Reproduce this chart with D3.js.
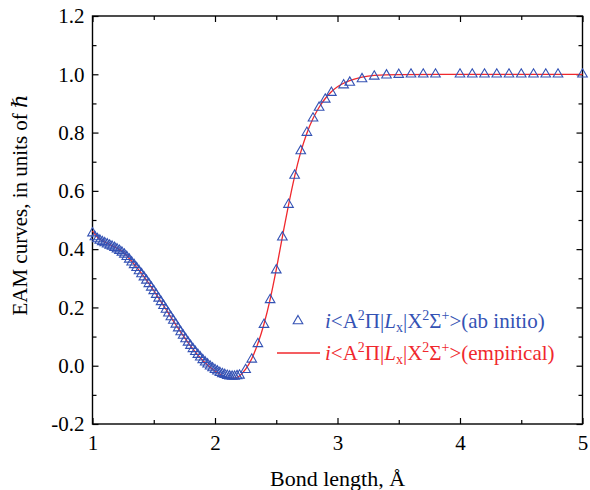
<html>
  <head>
    <meta charset="UTF-8">
    <script src="https://cdn.jsdelivr.net/npm/d3@7"></script>
    <style>
      body { margin: 0; background: #fff; }
      text { font-family: "Liberation Serif", "DejaVu Serif", serif; }
    </style>
  </head>
  <body>
  <script type="text/javascript">

    // ab initio points (triangles)
    var abX = [1.00, 1.02, 1.04, 1.06, 1.08, 1.10, 1.12, 1.14, 1.16, 1.18,
               1.20, 1.22, 1.24, 1.26, 1.28, 1.30, 1.32, 1.34, 1.36, 1.38,
               1.40, 1.42, 1.44, 1.46, 1.48, 1.50, 1.52, 1.54, 1.56, 1.58,
               1.60, 1.62, 1.64, 1.66, 1.68, 1.70, 1.72, 1.74, 1.76, 1.78,
               1.80, 1.82, 1.84, 1.86, 1.88, 1.90, 1.92, 1.94, 1.96, 1.98,
               2.00, 2.02, 2.04, 2.06, 2.08, 2.10, 2.12, 2.14, 2.16, 2.18, 2.20,
               2.25, 2.30, 2.35, 2.40, 2.45, 2.50, 2.55, 2.60, 2.65, 2.70, 2.75,
               2.80, 2.85, 2.90, 2.95, 3.05, 3.10, 3.20, 3.30, 3.40, 3.50, 3.60,
               3.70, 3.80, 4.00, 4.10, 4.20, 4.30, 4.40, 4.50, 4.60, 4.70, 4.80, 5.00];
    var abY = [0.455, 0.442, 0.435, 0.430, 0.425, 0.421, 0.417, 0.413, 0.409, 0.405,
               0.400, 0.395, 0.389, 0.382, 0.374, 0.365, 0.355, 0.346, 0.336, 0.325,
               0.315, 0.304, 0.293, 0.281, 0.269, 0.257, 0.244, 0.231, 0.219, 0.206,
               0.193, 0.180, 0.167, 0.155, 0.142, 0.129, 0.116, 0.104, 0.092, 0.080,
               0.069, 0.058, 0.048, 0.038, 0.029, 0.020, 0.012, 0.005, -0.002, -0.008,
               -0.014, -0.019, -0.024, -0.028, -0.031, -0.034, -0.036, -0.037, -0.037, -0.035, -0.033,
               -0.014, 0.022, 0.075, 0.141, 0.226, 0.328, 0.441, 0.553, 0.653, 0.737, 0.800,
               0.849, 0.886, 0.914, 0.937, 0.963, 0.972, 0.984, 0.993, 0.997, 0.999, 1.000,
               1.000, 1.000, 1.000, 1.000, 1.000, 1.000, 1.000, 1.000, 1.000, 1.000, 1.000, 1.000];

    // empirical curve (red line)
    var empX = [1.00, 1.05, 1.10, 1.15, 1.20, 1.25, 1.30, 1.35, 1.40, 1.50, 1.60, 1.70,
                1.80, 1.90, 2.00, 2.05, 2.10, 2.15, 2.20, 2.25, 2.30, 2.35, 2.40, 2.45,
                2.50, 2.55, 2.60, 2.65, 2.70, 2.75, 2.80, 2.85, 2.90, 2.95, 3.00, 3.10,
                3.20, 3.30, 3.50, 4.00, 5.00];
    var empY = [0.462, 0.437, 0.424, 0.414, 0.403, 0.390, 0.368, 0.343, 0.317, 0.258, 0.193, 0.128,
                0.068, 0.018, -0.018, -0.031, -0.040, -0.043, -0.035, -0.012, 0.024, 0.076, 0.143, 0.228,
                0.330, 0.442, 0.551, 0.650, 0.733, 0.798, 0.848, 0.887, 0.917, 0.940, 0.957, 0.978,
                0.990, 0.996, 0.999, 1.000, 1.000];

    var xTicks = [1, 2, 3, 4, 5];
    var xMinor = [1.5, 2.5, 3.5, 4.5];
    var yTicks = [-0.2, 0.0, 0.2, 0.4, 0.6, 0.8, 1.0, 1.2];
    var yMinor = [-0.1, 0.1, 0.3, 0.5, 0.7, 0.9, 1.1];

    var width = 590, height = 490;
    var pLeft = 92.5, pRight = 582.5, pTop = 16, pBottom = 424;
    var blue = "#3452b4", red = "#f0282d";

    var svg = d3.select("body").append("svg")
                .attr("width", width)
                .attr("height", height);

    var x = d3.scaleLinear().domain([1, 5]).range([pLeft, pRight]);
    var y = d3.scaleLinear().domain([-0.2, 1.2]).range([pBottom, pTop]);

    // axes, ticks pointing inward
    function styleAxis(g) {
      g.select(".domain").remove();
      g.selectAll("line").attr("stroke", "#000").attr("stroke-width", 1.2);
      g.selectAll("text").attr("font-size", "21px").attr("fill", "#000")
        .style("font-family", "Liberation Serif");
    }

    svg.append("g").attr("transform", "translate(0," + pBottom + ")")
      .call(d3.axisBottom(x).tickValues(xTicks).tickSize(-6).tickPadding(11).tickFormat(d3.format("d")))
      .call(styleAxis);
    svg.append("g").attr("transform", "translate(0," + pBottom + ")")
      .call(d3.axisBottom(x).tickValues(xMinor).tickSize(-4).tickFormat(""))
      .call(styleAxis);
    svg.append("g").attr("transform", "translate(0," + pTop + ")")
      .call(d3.axisTop(x).tickValues(xTicks).tickSize(-6).tickFormat(""))
      .call(styleAxis);
    svg.append("g").attr("transform", "translate(0," + pTop + ")")
      .call(d3.axisTop(x).tickValues(xMinor).tickSize(-4).tickFormat(""))
      .call(styleAxis);

    svg.append("g").attr("transform", "translate(" + pLeft + ",0)")
      .call(d3.axisLeft(y).tickValues(yTicks).tickSize(-6).tickPadding(8)
        .tickFormat(function(d){ return d.toFixed(1); }))
      .call(styleAxis);
    svg.append("g").attr("transform", "translate(" + pLeft + ",0)")
      .call(d3.axisLeft(y).tickValues(yMinor).tickSize(-4).tickFormat(""))
      .call(styleAxis);
    svg.append("g").attr("transform", "translate(" + pRight + ",0)")
      .call(d3.axisRight(y).tickValues(yTicks).tickSize(-6).tickFormat(""))
      .call(styleAxis);
    svg.append("g").attr("transform", "translate(" + pRight + ",0)")
      .call(d3.axisRight(y).tickValues(yMinor).tickSize(-4).tickFormat(""))
      .call(styleAxis);

    // frame
    svg.append("rect")
      .attr("x", pLeft).attr("y", pTop)
      .attr("width", pRight - pLeft).attr("height", pBottom - pTop)
      .attr("fill", "none").attr("stroke", "#000").attr("stroke-width", 1.4);

    // red empirical line
    var line = d3.line()
      .x(function(d, i){ return x(empX[i]); })
      .y(function(d, i){ return y(empY[i]); })
      .curve(d3.curveMonotoneX);

    svg.append("path")
      .attr("d", line(empX))
      .attr("fill", "none")
      .attr("stroke", red)
      .attr("stroke-width", 1.3);

    // ab initio triangles
    var tri = d3.symbol().type(d3.symbolTriangle).size(40);
    svg.selectAll("path.pt")
      .data(abX)
      .enter()
      .append("path")
      .attr("class", "pt")
      .attr("d", tri)
      .attr("transform", function(d, i){ return "translate(" + x(d) + "," + y(abY[i]) + ")"; })
      .attr("fill", "none")
      .attr("stroke", blue)
      .attr("stroke-width", 1.1);

    // axis titles
    svg.append("text")
      .attr("x", (pLeft + pRight) / 2).attr("y", 486)
      .attr("text-anchor", "middle")
      .attr("font-size", "22px")
      .text("Bond length, Å");

    var yt = svg.append("text")
      .attr("transform", "translate(27,205) rotate(-90)")
      .attr("text-anchor", "middle")
      .attr("font-size", "21px");
    yt.append("tspan").text("EAM curves, in units of ");
    yt.append("tspan").attr("font-style", "italic").style("font-family", "DejaVu Serif").text("ℏ");

    // legend
    function legendLabel(tx, ty, color, tail) {
      var t = svg.append("text").attr("x", tx).attr("y", ty)
        .attr("font-size", "21px").attr("fill", color);
      t.append("tspan").attr("font-style", "italic").text("i");
      t.append("tspan").text("<A");
      t.append("tspan").attr("font-size", "14px").attr("dy", -8).text("2");
      t.append("tspan").attr("dy", 8).text("Π|");
      t.append("tspan").attr("font-style", "italic").text("L");
      t.append("tspan").attr("font-size", "14px").attr("dy", 4).text("x");
      t.append("tspan").attr("dy", -4).text("|X");
      t.append("tspan").attr("font-size", "14px").attr("dy", -8).text("2");
      t.append("tspan").attr("dy", 8).text("Σ");
      t.append("tspan").attr("font-size", "14px").attr("dy", -8).text("+");
      t.append("tspan").attr("dy", 8).text(">" + tail);
    }

    svg.append("path")
      .attr("d", tri)
      .attr("transform", "translate(298,321)")
      .attr("fill", "none").attr("stroke", blue).attr("stroke-width", 1.1);
    legendLabel(325, 328, blue, "(ab initio)");

    svg.append("line")
      .attr("x1", 277).attr("x2", 320).attr("y1", 353).attr("y2", 353)
      .attr("stroke", red).attr("stroke-width", 1.3);
    legendLabel(325, 360, red, "(empirical)");

  </script>
  </body>
</html>
